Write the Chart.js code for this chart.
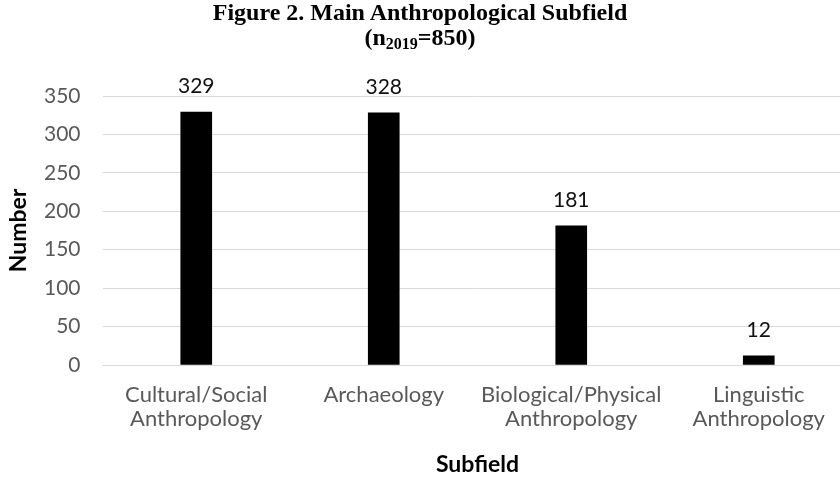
<!DOCTYPE html>
<html><head><meta charset="utf-8">
<script src="https://cdn.jsdelivr.net/npm/chart.js@4.4.1/dist/chart.umd.min.js"></script>
<style>
html,body{margin:0;padding:0;background:#fff;overflow:hidden;width:840px;height:477px;}
#wrap{position:relative;width:840px;height:477px;overflow:hidden;}
#cv{position:absolute;left:0;top:0;}
#ttl{position:absolute;left:0;top:0px;width:840px;text-align:center;font-family:"Liberation Serif","Times New Roman",serif;font-weight:bold;font-size:24px;line-height:25px;color:#000;z-index:2;}
#ttl sub{font-size:16px;vertical-align:-4px;line-height:0;}
</style></head>
<body><div id="wrap">
<div id="ttl">Figure 2. Main Anthropological Subfield<br>(n<sub>2019</sub>=850)</div>
<canvas id="cv" width="874" height="477" style="width:874px;height:477px"></canvas>
</div>
<script>
const categories = [["Cultural/Social","Anthropology"],["Archaeology"],["Biological/Physical","Anthropology"],["Linguistic","Anthropology"]];
const counts = [329, 328, 181, 12];
const yTickValues = [0, 50, 100, 150, 200, 250, 300, 350];
const xAxisTitle = "Subfield";
const yAxisTitle = "Number";

const FONT = 'Lato, "Open Sans", sans-serif';

const valueLabels = {
  id: 'valueLabels',
  afterDatasetsDraw(chart) {
    const ctx = chart.ctx;
    const meta = chart.getDatasetMeta(0);
    ctx.save();
    ctx.font = '21px ' + FONT;
    ctx.fillStyle = '#111';
    ctx.textAlign = 'center';
    ctx.textBaseline = 'alphabetic';
    meta.data.forEach((bar, i) => {
      ctx.fillText(String(chart.data.datasets[0].data[i]), bar.x, bar.y - 19);
    });
    ctx.restore();
  }
};

new Chart(document.getElementById('cv'), {
  type: 'bar',
  data: {
    labels: categories,
    datasets: [{ data: counts, backgroundColor: '#000', borderWidth: 0, barThickness: 31 }]
  },
  options: {
    responsive: false,
    animation: false,
    devicePixelRatio: 1,
    layout: { padding: { top: 96, right: 21.5, bottom: 0, left: 0 } },
    plugins: { legend: { display: false }, tooltip: { enabled: false }, title: { display: false } },
    scales: {
      x: {
        grid: { display: false, drawTicks: false },
        border: { color: '#d9d9d9', width: 1 },
        ticks: { color: '#595959', font: { family: FONT, size: 22, lineHeight: '24px' }, padding: 18, maxRotation: 0, autoSkip: false },
        title: { display: true, text: xAxisTitle, color: '#000', font: { family: FONT, size: 23, weight: 'bold', lineHeight: '24px' }, padding: { top: 0, bottom: 0 } },
        afterFit(s) { s.height = 112; }
      },
      y: {
        min: 0, max: 350,
        afterBuildTicks(s) { s.ticks = yTickValues.map(v => ({ value: v })); },
        grid: { color: '#d9d9d9', lineWidth: 1, drawTicks: false },
        border: { display: false },
        ticks: { color: '#595959', font: { family: FONT, size: 21 }, padding: 22 },
        title: { display: true, text: yAxisTitle, color: '#000', font: { family: FONT, size: 23, weight: 'bold', lineHeight: 1.2 }, padding: { top: 5, bottom: 0 } },
        afterFit(s) { s.width = 102.5; }
      }
    }
  },
  plugins: [valueLabels]
});
</script>
</body></html>
